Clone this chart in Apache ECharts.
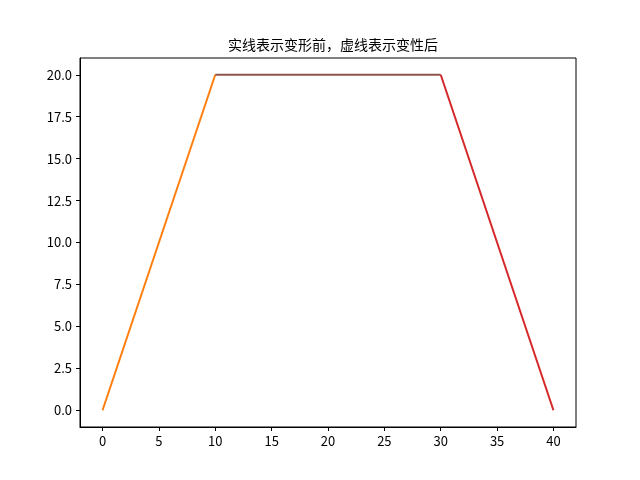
<!DOCTYPE html>
<html>
<head>
<meta charset="utf-8">
<script src="https://cdn.jsdelivr.net/npm/echarts@6/dist/echarts.min.js"></script>
<style>
  html, body { margin: 0; padding: 0; background: #fff; }
  #chart { width: 640px; height: 480px; }
</style>
</head>
<body>
<div id="chart"></div>
<script>
// three pieces of the trapezoid (before / after deformation overlap)
const riseX = [0, 10];
const riseY = [0, 20];
const flatX = [10, 30];
const flatY = [20, 20];
const fallX = [30, 40];
const fallY = [20, 0];
const xTicks = [0, 5, 10, 15, 20, 25, 30, 35, 40];
const yTicks = [0, 2.5, 5, 7.5, 10, 12.5, 15, 17.5, 20];

const pair = (xs, ys) => xs.map((x, i) => [x, ys[i]]);

const chart = echarts.init(document.getElementById("chart"));
const font = "'Noto Sans CJK SC', 'DejaVu Sans', sans-serif";

const line = (data, color) => ({
  type: "line",
  data: data,
  showSymbol: false,
  lineStyle: { color: color, width: 2 },
  animation: false,
});

const axisBase = {
  type: "value",
  axisLine: { show: true, onZero: false, lineStyle: { color: "#000", width: 1 } },
  splitLine: { show: false },
};

chart.setOption({
  animation: false,
  title: {
    text: "实线表示变形前，虚线表示变性后",
    left: 328,
    textAlign: "center",
    top: 33,
    textStyle: { fontFamily: font, fontSize: 14, fontWeight: "normal", color: "#000" },
  },
  grid: {
    left: 80, right: 64, top: 58, bottom: 53,
    show: true, borderColor: "#000", borderWidth: 1,
  },
  xAxis: Object.assign({}, axisBase, {
    min: -2, max: 42,
    axisTick: { show: true, length: 4, lineStyle: { color: "#000" }, customValues: xTicks },
    axisLabel: { color: "#000", fontFamily: font, fontSize: 13, margin: 8, customValues: xTicks },
  }),
  yAxis: Object.assign({}, axisBase, {
    min: -1, max: 21,
    axisTick: { show: true, length: 4, lineStyle: { color: "#000" }, customValues: yTicks },
    axisLabel: {
      color: "#000", fontFamily: font, fontSize: 13, margin: 8,
      customValues: yTicks,
      formatter: (v) => v.toFixed(1),
    },
  }),
  series: [
    line(pair(riseX, riseY), "#ff7f0e"),
    line(pair(flatX, flatY), "#8c564b"),
    line(pair(fallX, fallY), "#d62728"),
  ],
});
</script>
</body>
</html>
